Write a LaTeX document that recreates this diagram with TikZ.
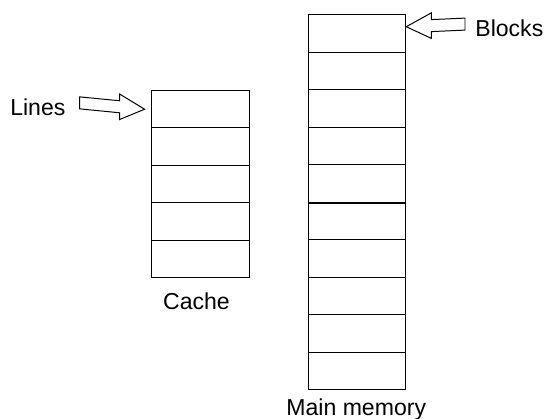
\documentclass[tikz,border=0pt]{standalone}
\usepackage{fontspec}
\setmainfont{Liberation Sans}
\usetikzlibrary{calc,positioning}

% hollow block arrow from a tail point to a tip point
\newcommand{\HollowArrow}[2]{%
  \coordinate (hb) at ($(#2)!0.67cm!(#1)$);
  \draw[line width=0.75pt,line join=miter] ($(#1)+(0,0.16)$) -- ($(hb)+(0,0.16)$) -- ($(hb)+(0,0.34)$)
    -- (#2) -- ($(hb)+(0,-0.34)$) -- ($(hb)+(0,-0.16)$) -- ($(#1)+(0,-0.16)$) -- cycle;}

\begin{document}
\begin{tikzpicture}[
                    cell/.style={draw, line width=0.75pt, minimum width=2.6cm,
                                 minimum height=1cm, inner sep=0pt},
                    lbl/.style={inner sep=0pt, font=\fontsize{17.5}{21}\selectfont}]

                \useasboundingbox (0,0) rectangle (14.507,11.173);

                % cache lines
                \foreach \i in {0,...,4}
                    \draw(5.34,8.26-\i) node[cell] (c\i) {};
                % main memory blocks
                \foreach \i in {0,...,9}
                    \draw(9.52,10.28-\i) node[cell] (m\i) {};
                \draw[line width=1.5pt] (m4.south west) -- (m4.south east);

                \draw(5.24,2.91) node[lbl, anchor=base] (cache) {Cache};
                \draw(9.5,0.08) node[lbl, anchor=base] (mem) {Main memory};

                \draw(1.01,8.09) node[lbl, anchor=base] (lines) {Lines};
                \draw(12.67,10.21) node[lbl, anchor=base west] (blocks) {Blocks};

                \coordinate (lt) at ($(lines.east)+(0.37,0.12)$);
                \coordinate (lh) at ($(c0.west)+(-0.17,0)$);
                \HollowArrow{lt}{lh}
                \coordinate (bt) at ($(blocks.west)+(-0.27,0.1)$);
                \coordinate (bh) at ($(m0.east)+(0,0.18)$);
                \HollowArrow{bt}{bh}

            \end{tikzpicture}
\end{document}
